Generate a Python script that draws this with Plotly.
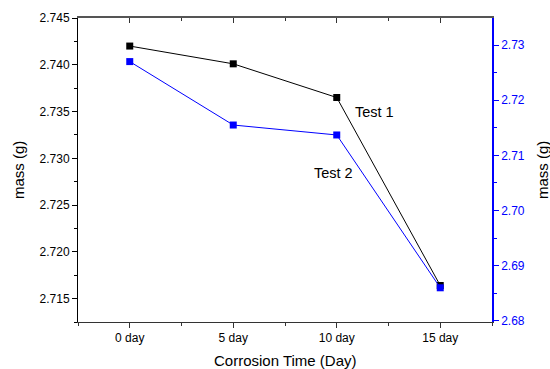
import plotly.graph_objects as go

categories = ["0 day", "5 day", "10 day", "15 day"]
test1_mass = [2.7420, 2.7401, 2.7365, 2.7164]
test2_mass = [2.7270, 2.7155, 2.7137, 2.6860]

xpos = list(range(len(categories)))
FONT = "Arial, Liberation Sans, sans-serif"

ML, MR, MT, MB = 78, 58, 18, 47
PW = 550 - ML - MR
PH = 369 - MT - MB

fig = go.Figure()
fig.add_trace(go.Scatter(
    x=xpos, y=test1_mass, name="Test 1", mode="lines+markers",
    line=dict(color="black", width=1),
    marker=dict(symbol="square", size=7, color="black"),
    yaxis="y"))
fig.add_trace(go.Scatter(
    x=xpos, y=test2_mass, name="Test 2", mode="lines+markers",
    line=dict(color="blue", width=1),
    marker=dict(symbol="square", size=7, color="blue"),
    yaxis="y2"))
# empty trace to host the top (mirror) axis
fig.add_trace(go.Scatter(x=[None], y=[None], xaxis="x2", yaxis="y",
                         showlegend=False, hoverinfo="skip"))

fig.update_layout(
    width=550, height=369,
    margin=dict(l=ML, r=MR, t=MT, b=MB),
    paper_bgcolor="white", plot_bgcolor="white",
    showlegend=False,
    font=dict(family=FONT, size=12, color="black"),
    xaxis=dict(
        range=[-0.5, 3.5], tickvals=xpos, ticktext=categories,
        showgrid=False, zeroline=False, automargin=False,
        showline=True, linecolor="#333333", linewidth=1,
        ticks="outside", ticklen=5, tickcolor="#333333",
        minor=dict(dtick=0.5, tick0=-0.5, ticks="outside", ticklen=3, tickcolor="#333333"),
        tickfont=dict(size=12),
    ),
    xaxis2=dict(
        overlaying="x", side="top", anchor="y",
        range=[-0.5, 3.5], tickvals=xpos, showticklabels=False,
        showgrid=False, zeroline=False, automargin=False,
        showline=True, linecolor="#555555", linewidth=2,
        ticks="inside", ticklen=5, tickcolor="#333333",
        minor=dict(dtick=0.5, tick0=-0.5, ticks="inside", ticklen=3, tickcolor="#333333"),
    ),
    yaxis=dict(
        range=[2.7125, 2.745], dtick=0.005, tick0=2.715, tickformat=".3f",
        showgrid=False, zeroline=False, automargin=False,
        showline=True, linecolor="black", linewidth=1,
        ticks="outside", ticklen=5, tickcolor="black",
        minor=dict(dtick=0.0025, ticks="outside", ticklen=3, tickcolor="black"),
        tickfont=dict(size=12),
    ),
    yaxis2=dict(
        overlaying="y", side="right", anchor="x",
        range=[2.6798, 2.7349], dtick=0.01, tick0=2.68, tickformat=".2f",
        showgrid=False, zeroline=False, automargin=False,
        showline=True, linecolor="blue", linewidth=1.5,
        ticks="outside", ticklen=5, tickcolor="blue",
        minor=dict(dtick=0.005, ticks="outside", ticklen=3, tickcolor="blue"),
        tickfont=dict(size=12, color="blue"),
    ),
    annotations=[
        dict(text="Test 1", x=2.367, y=2.73495, xref="x", yref="y",
             showarrow=False, font=dict(size=14.5, color="black")),
        dict(text="Test 2", x=1.967, y=2.7284, xref="x", yref="y",
             showarrow=False, font=dict(size=14.5, color="black")),
        dict(text="mass (g)", textangle=-90, xref="paper", yref="paper",
             x=(18 - ML) / PW, y=0.5,
             xanchor="center", yanchor="middle", showarrow=False,
             font=dict(size=15, color="black")),
        dict(text="mass (g)", textangle=-90, xref="paper", yref="paper",
             x=(542 - ML) / PW, y=0.5,
             xanchor="center", yanchor="middle", showarrow=False,
             font=dict(size=15, color="black")),
        dict(text="Corrosion Time (Day)", xref="paper", yref="paper",
             x=0.5, y=(MT + PH - 360) / PH,
             xanchor="center", yanchor="middle", showarrow=False,
             font=dict(size=15, color="black")),
    ],
)

fig.write_html("out.html",
               config={"displayModeBar": False},
               post_script="document.body.style.margin='0';document.body.style.padding='0';")
